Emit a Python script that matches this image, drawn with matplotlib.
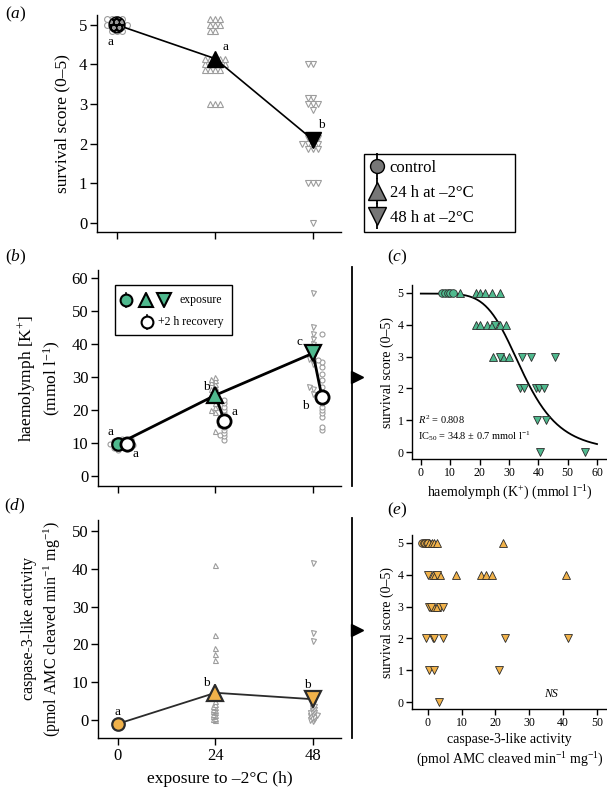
#! /usr/bin/env python3

import numpy as np
import matplotlib
matplotlib.use("Agg")
from matplotlib import pyplot as plt
from matplotlib.lines import Line2D
from matplotlib.patches import Rectangle

plt.rcParams["font.family"] = ["Liberation Serif", "DejaVu Serif"]
plt.rcParams["mathtext.fontset"] = "custom"
plt.rcParams["mathtext.rm"] = "Liberation Serif"
plt.rcParams["mathtext.it"] = "Liberation Serif:italic"
plt.rcParams["mathtext.bf"] = "Liberation Serif:bold"

GREEN = "#4fb98e"
ORANGE = "#f1b24a"
GREY = "#9c9c9c"
DARK = "#2b2b2b"

hours = [0, 24, 48]
markers = ["o", "^", "v"]

# (a) survival score
surv_ctrl = [5] * 12
surv_24 = [5] * 8 + [4] * 14 + [3] * 3
surv_48 = [4] * 2 + [3] * 6 + [2] * 10 + [1] * 3 + [0]
surv_mean = [5.0, 4.15, 2.1]
surv_sem = [0.0, 0.1, 0.2]
surv_letters = ["a", "a", "b"]

# (b) haemolymph K+
k_ctrl_exp = [8.0, 8.5, 9.0, 9.3, 9.6, 9.8, 10.0, 10.3, 10.6, 11.0, 11.3]
k_ctrl_rec = [8.2, 8.7, 9.1, 9.4, 9.7, 10.0, 10.4, 10.8, 11.2]
k_24_exp = [13.8, 19.5, 20.0, 21.0, 22.0, 23.0, 24.0, 24.5, 25.0, 26.0, 26.5,
            27.0, 28.0, 28.5, 29.0, 29.5, 30.0]
k_24_rec = [11.0, 12.0, 12.5, 13.0, 14.0, 15.0, 15.5, 16.0, 17.0, 18.0, 19.0,
            20.0, 21.0, 22.0, 23.0]
k_48_exp = [25.0, 26.5, 27.0, 34.0, 35.0, 35.5, 36.0, 37.0, 38.0, 39.0, 40.0,
            41.5, 43.0, 45.0, 55.5]
k_48_rec = [14.0, 15.0, 18.0, 19.0, 20.0, 21.0, 22.0, 23.0, 24.0, 25.0, 27.0,
            29.0, 31.0, 33.0, 34.5, 35.0, 43.0]
k_exp_mean = [9.7, 24.5, 37.2]
k_exp_sem = [0.4, 1.0, 1.6]
k_rec_mean = [9.6, 16.6, 24.0]
k_rec_sem = [0.4, 0.9, 1.7]
recovery_h = 2.2

# (c) survival vs K+
c_ctrl_k = [7.3, 8.3, 9.2, 10.0, 11.0]
c_ctrl_s = [5, 5, 5, 5, 5]
c_24_k = [13.3, 18.9, 20.0, 21.8, 24.3, 26.9, 18.9, 20.3, 22.7, 24.3, 26.9,
          29.1, 24.6, 28.0, 30.0]
c_24_s = [5, 5, 5, 5, 5, 5, 4, 4, 4, 4, 4, 4, 3, 3, 3]
c_48_k = [25.2, 26.9, 34.6, 37.6, 45.6, 33.7, 35.1, 39.3, 40.1, 41.8, 39.6,
          42.5, 40.5, 55.8]
c_48_s = [4, 3, 3, 3, 3, 2, 2, 2, 2, 2, 1, 1, 0, 0]
ic50 = 34.8
hill = 5.4

# (d) caspase-3-like activity
cas_ctrl = [-1.6, -1.3, -1.1, -0.9, -0.7, -0.5]
cas_24 = [0.0, 0.3, 0.6, 1.0, 1.3, 1.6, 2.0, 2.3, 2.6, 3.0, 3.4, 3.8, 4.3, 5.0,
          8.3, 16.0, 17.5, 19.0, 22.5, 41.0]
cas_48 = [-0.3, 0.0, 0.2, 0.5, 0.8, 1.0, 1.2, 1.5, 1.8, 2.0, 2.4, 2.8, 3.2,
          3.6, 4.0, 4.5, 5.0, 21.0, 23.0, 41.5]
cas_mean = [-1.0, 7.2, 5.5]
cas_sem = [0.3, 2.2, 2.4]
cas_letters = ["a", "b", "b"]

# (e) survival vs caspase
e_ctrl_c = [-1.6, -1.2, -0.8, -0.4, 0.0]
e_ctrl_s = [5, 5, 5, 5, 5]
e_24_c = [0.3, 1.2, 1.9, 2.7, 22.3, 1.5, 2.2, 3.6, 8.3, 15.6, 17.2, 18.9,
          41.0, 1.7, 2.8]
e_24_s = [5, 5, 5, 5, 5, 4, 4, 4, 4, 4, 4, 4, 4, 3, 3]
e_48_c = [0.0, 2.8, 0.2, 0.9, 3.6, 4.4, -0.5, 1.5, 1.9, 4.6, 22.8, 41.5,
          0.4, 1.9, 21.1, 3.3]
e_48_s = [4, 4, 3, 3, 3, 3, 2, 2, 2, 2, 2, 2, 1, 1, 1, 0]


def swarm(vals, sx, sy, d, rows=False):
    # offsets (data units) so markers of spacing d px don't pile up
    order = np.argsort(vals, kind="stable")
    offs = np.zeros(len(vals))
    yoff = np.zeros(len(vals))
    placed = []
    cands = []
    dys = [0.0, 0.55 * d, -0.55 * d, 1.1 * d, -1.1 * d] if rows else [0.0]
    for k in range(-40, 41):
        for dy in dys:
            cands.append((k * 0.5 * d, dy))
    cands.sort(key=lambda c: c[0] ** 2 + c[1] ** 2)
    for i in order:
        yp = vals[i] * sy
        for cx, cy in cands:
            if all((cx - px) ** 2 + (yp + cy - py) ** 2 >= (0.8 * d) ** 2
                   for px, py in placed):
                break
        placed.append((cx, yp + cy))
        offs[i] = cx / sx
        yoff[i] = cy / sy
    return offs, yoff


def style(ax, fs):
    ax.spines["top"].set_visible(False)
    ax.spines["right"].set_visible(False)
    ax.spines["left"].set_linewidth(1.0)
    ax.spines["bottom"].set_linewidth(1.0)
    ax.tick_params(direction="out", length=5, width=1.0, labelsize=fs,
                   colors="black", pad=2)


def draw_points(ax, x0, vals, marker, sx, sy, d, ms, rows=False):
    vals = np.asarray(vals, dtype=float)
    dx, dy = swarm(vals, sx, sy, d, rows)
    ax.plot(x0 + dx, vals + dy, ls="", marker=marker, ms=ms, mfc="white",
            mec=GREY, mew=0.8, zorder=2)


fig = plt.figure(figsize=(6.07, 7.88), dpi=100)
W, H = 607.0, 788.0


def px_axes(l, t, r, b):
    return fig.add_axes([l / W, 1 - b / H, (r - l) / W, (b - t) / H])


def panel_label(x, y, s):
    fig.text(x / W, 1 - y / H, "(" + r"$\mathit{" + s + "}$" + ")",
             fontsize=12.5, ha="center", va="center")


# ---------- (a)
ax_a = px_axes(97, 15, 341, 232)
style(ax_a, 12)
ax_a.set_xlim(-4.9, 54.9)
ax_a.set_ylim(-0.23, 5.25)
for h, vals, m in zip(hours, [surv_ctrl, surv_24, surv_48], markers):
    draw_points(ax_a, h, vals, m, 4.08, 39.6, 5.2, 4.2, rows=True)
ax_a.plot(hours, surv_mean, color="black", lw=1.2, zorder=3)
ax_a.errorbar(hours, surv_mean, yerr=surv_sem, fmt="none", ecolor="black",
              elinewidth=1.2, capsize=0, zorder=3)
ax_a.scatter([hours[0]], [surv_mean[0]], s=130, marker="o", facecolor="black",
             edgecolor="#9a9a9a", hatch="ooo", linewidth=0, zorder=4)
ax_a.scatter([hours[0]], [surv_mean[0]], s=130, marker="o", facecolor="none",
             edgecolor="black", linewidth=1.0, zorder=5)
for h, m, v in zip(hours[1:], markers[1:], surv_mean[1:]):
    ax_a.plot([h], [v], marker=m, ms=12, color="black", ls="", zorder=4)
for (x, y), s in zip([(-1.7, 4.57), (26.5, 4.45), (50.0, 2.47)], surv_letters):
    ax_a.text(x, y, s, fontsize=9.5, ha="center", va="center")
ax_a.set_xticks(hours)
ax_a.set_xticklabels([])
ax_a.set_yticks(range(6))
ax_a.set_ylabel("survival score (0–5)", fontsize=12.5, labelpad=6)

# legend for (a)
leg_handles = []
for m in markers:
    stem = Line2D([], [], ls="", marker="|", ms=19, mew=1.3, color="black")
    mk = Line2D([], [], ls="", marker=m, ms=13 if m != "o" else 10,
                mfc="#777777", mec="black", mew=1.0)
    leg_handles.append((stem, mk))
fig.legend(leg_handles, ["control", "24 h at –2°C", "48 h at –2°C"],
           loc="upper left",
           bbox_to_anchor=(364 / W, 1 - 232 / H, 151 / W, 78 / H),
           mode="expand", fontsize=12, frameon=True, fancybox=False,
           edgecolor="black", borderaxespad=0, handlelength=0.9,
           handletextpad=0.3, labelspacing=0.55, borderpad=0.35,
           framealpha=1)

# ---------- (b)
ax_b = px_axes(98, 270, 341, 486)
style(ax_b, 12)
ax_b.set_xlim(-4.9, 54.9)
ax_b.set_ylim(-3.0, 62.4)
exp_sets = [k_ctrl_exp, k_24_exp, k_48_exp]
rec_sets = [k_ctrl_rec, k_24_rec, k_48_rec]
for h, ve, vr, m in zip(hours, exp_sets, rec_sets, markers):
    draw_points(ax_b, h, ve, m, 4.08, 3.3, 4.0, 3.6)
    draw_points(ax_b, h + recovery_h, vr, "o", 4.08, 3.3, 4.0, 3.6)
ax_b.plot(hours, k_exp_mean, color="black", lw=2.0, zorder=3)
for h, ve, vr in zip(hours, k_exp_mean, k_rec_mean):
    ax_b.plot([h, h + recovery_h], [ve, vr], color="black", lw=2.0, zorder=3)
ax_b.errorbar(hours, k_exp_mean, yerr=k_exp_sem, fmt="none", ecolor="black",
              elinewidth=1.2, zorder=3)
ax_b.errorbar(np.array(hours) + recovery_h, k_rec_mean, yerr=k_rec_sem,
              fmt="none", ecolor="black", elinewidth=1.2, zorder=3)
for h, m, v in zip(hours, markers, k_exp_mean):
    ax_b.plot([h], [v], marker=m, ms=11 if m != "o" else 9, mfc=GREEN,
              mec="black", mew=1.6, ls="", zorder=4)
ax_b.plot(np.array(hours) + recovery_h, k_rec_mean, marker="o", ms=9.5,
          mfc="white", mec="black", mew=2.0, ls="", zorder=4)
b_letters = [((-1.9, 13.3), "a"), ((4.4, 6.7), "a"), ((21.8, 27.0), "b"),
             ((28.7, 19.4), "a"), ((44.6, 40.6), "c"), ((46.2, 21.2), "b")]
for (x, y), s in b_letters:
    ax_b.text(x, y, s, fontsize=9.5, ha="center", va="center")
ax_b.set_xticks(hours)
ax_b.set_xticklabels([])
ax_b.set_yticks(range(0, 61, 10))
ax_b.set_ylabel("haemolymph [K$^{+}$]\n(mmol l$^{-1}$)", fontsize=12.5,
                labelpad=6, linespacing=1.3)

# legend for (b), drawn in axes fraction
tb = ax_b.transAxes
ax_b.add_patch(Rectangle((0.07, 0.699), 0.481, 0.231, transform=tb,
                         facecolor="white", edgecolor="black", lw=1.0,
                         zorder=6))
for fx, m in zip([0.115, 0.196, 0.272], markers):
    ax_b.plot([fx, fx], [0.83, 0.895], color="black", lw=1.2, transform=tb,
              zorder=7)
    ax_b.plot([fx], [0.861], marker=m, ms=10 if m != "o" else 8.5, mfc=GREEN,
              mec="black", mew=1.5, transform=tb, zorder=8)
ax_b.plot([0.2, 0.2], [0.728, 0.792], color="black", lw=1.2, transform=tb,
          zorder=7)
ax_b.plot([0.2], [0.759], marker="o", ms=8.5, mfc="white", mec="black",
          mew=1.5, transform=tb, zorder=8)
ax_b.text(0.335, 0.861, "exposure", fontsize=8.5, va="center", transform=tb,
          zorder=8)
ax_b.text(0.245, 0.759, "+2 h recovery", fontsize=8.5, va="center",
          transform=tb, zorder=8)

# ---------- (d)
ax_d = px_axes(98, 520, 341, 738)
style(ax_d, 12)
ax_d.set_xlim(-4.9, 54.9)
ax_d.set_ylim(-4.76, 52.9)
for h, vals, m in zip(hours, [cas_ctrl, cas_24, cas_48], markers):
    draw_points(ax_d, h, vals, m, 4.08, 3.78, 2.6, 3.6)
ax_d.plot(hours, cas_mean, color=DARK, lw=1.3, zorder=3)
ax_d.errorbar(hours, cas_mean, yerr=cas_sem, fmt="none", ecolor=DARK,
              elinewidth=1.2, zorder=3)
for h, m, v in zip(hours, markers, cas_mean):
    ax_d.plot([h], [v], marker=m, ms=12 if m != "o" else 9, mfc=ORANGE,
              mec=DARK, mew=1.6, ls="", zorder=4)
for (x, y), s in zip([(0.0, 2.1), (21.8, 9.8), (46.6, 9.2)], cas_letters):
    ax_d.text(x, y, s, fontsize=9.5, ha="center", va="center")
ax_d.set_xticks(hours)
ax_d.set_xticklabels([str(h) for h in hours])
ax_d.set_yticks(range(0, 51, 10))
ax_d.set_xlabel("exposure to –2°C (h)", fontsize=12.5, labelpad=5)
ax_d.set_ylabel("caspase-3-like activity\n(pmol AMC cleaved min$^{-1}$ mg$^{-1}$)",
                fontsize=11.5, labelpad=6, linespacing=1.35)

# ---------- (c)
ax_c = px_axes(412, 285, 607, 459)
style(ax_c, 8.5)
ax_c.tick_params(length=4)
ax_c.set_xlim(-3.0, 63.4)
ax_c.set_ylim(-0.22, 5.25)
kk = np.linspace(0, 60, 200)
ax_c.plot(kk, 4.98 / (1.0 + (kk / ic50) ** hill), color="black", lw=1.3,
          zorder=2)
for xs, ys, m in zip([c_ctrl_k, c_24_k, c_48_k], [c_ctrl_s, c_24_s, c_48_s],
                     markers):
    ax_c.plot(xs, ys, ls="", marker=m, ms=6 if m != "o" else 5.5, mfc=GREEN,
              mec=DARK, mew=0.6, zorder=3)
ax_c.set_xticks(range(0, 61, 10))
ax_c.set_yticks(range(6))
ax_c.text(-1.0, 1.0, "$\\mathit{R}^2$ = 0.808", fontsize=7.5, va="center")
ax_c.text(-1.0, 0.5, "IC$_{50}$ = 34.8 ± 0.7 mmol l$^{-1}$", fontsize=7.5,
          va="center")
ax_c.set_xlabel("haemolymph (K$^{+}$) (mmol l$^{-1}$)", fontsize=10, labelpad=3)
ax_c.set_ylabel("survival score (0–5)", fontsize=10, labelpad=3)

# ---------- (e)
ax_e = px_axes(412, 535, 607, 709)
style(ax_e, 8.5)
ax_e.tick_params(length=4)
ax_e.set_xlim(-4.7, 53.0)
ax_e.set_ylim(-0.22, 5.25)
for xs, ys, m in zip([e_ctrl_c, e_24_c, e_48_c], [e_ctrl_s, e_24_s, e_48_s],
                     markers):
    ax_e.plot(xs, ys, ls="", marker=m, ms=6 if m != "o" else 5.5, mfc=ORANGE,
              mec=DARK, mew=0.6, zorder=3)
ax_e.set_xticks(range(0, 51, 10))
ax_e.set_yticks(range(6))
ax_e.text(36.5, 0.25, "NS", fontsize=8.5, style="italic", ha="center",
          va="center")
ax_e.set_xlabel("caspase-3-like activity\n(pmol AMC cleaved min$^{-1}$ mg$^{-1}$)",
                fontsize=10, labelpad=3, linespacing=1.3)
ax_e.set_ylabel("survival score (0–5)", fontsize=10, labelpad=3)

# separators with arrowheads
for top, bot, mid in [(267, 486, 377), (518, 738, 630)]:
    fig.add_artist(Line2D([352 / W, 352 / W], [1 - top / H, 1 - bot / H],
                          color="black", lw=1.3, transform=fig.transFigure))
    fig.add_artist(Line2D([357 / W], [1 - mid / H], marker=">", ms=9,
                          color="black", ls="", transform=fig.transFigure))

panel_label(16, 14, "a")
panel_label(16, 257, "b")
panel_label(397, 257, "c")
panel_label(15, 506, "d")
panel_label(397, 510, "e")

fig.savefig("out.png", dpi=100)
